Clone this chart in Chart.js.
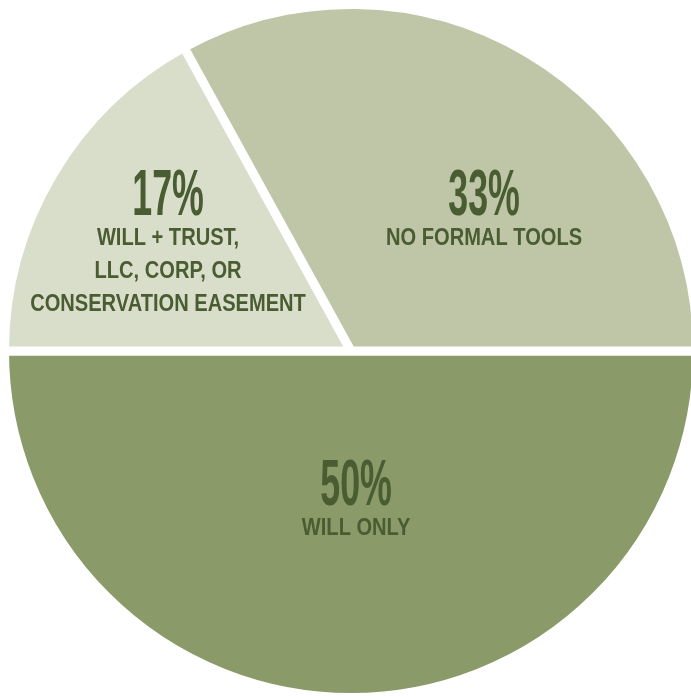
<!DOCTYPE html>
<html>
<head>
<meta charset="utf-8">
<script src="https://cdn.jsdelivr.net/npm/chart.js@4.4.1/dist/chart.umd.min.js"></script>
<style>
  html, body { margin: 0; padding: 0; background: #ffffff; overflow: hidden; }
  body { width: 691px; height: 696px; position: relative; }
  #pie { position: absolute; left: -1px; top: 0; }
</style>
</head>
<body>
<canvas id="pie" width="704" height="702"></canvas>
<script>
// data
const categories = ["Will only", "Will + trust, LLC, corp, or conservation easement", "No formal tools"];
const shares = [50, 17, 33];
const labelLines = [
  ["WILL ONLY"],
  ["WILL + TRUST,", "LLC, CORP, OR", "CONSERVATION EASEMENT"],
  ["NO FORMAL TOOLS"]
];
const sliceColors = ["#8a9a68", "#d9decb", "#bec6a7"];
const textColor = "#4a5d32";

// where each label block sits, as a fraction of the visible radius from the centre
const labelAnchors = [[0.015, 0.313], [-0.535, -0.535], [0.389, -0.535]];

const gap = 9;

const sliceLabels = {
  id: "sliceLabels",
  afterDraw(chart) {
    const ctx = chart.ctx;
    const meta = chart.getDatasetMeta(0);
    meta.data.forEach(function(arc, i) {
      const r = arc.outerRadius - gap / 2;
      const cx = arc.x + labelAnchors[i][0] * r;
      const top = arc.y + labelAnchors[i][1] * r;

      ctx.save();
      ctx.fillStyle = textColor;
      ctx.textAlign = "center";
      ctx.textBaseline = "alphabetic";

      // big condensed percentage
      ctx.save();
      ctx.translate(cx, top + 47);
      ctx.scale(0.55, 1);
      ctx.font = "bold 65px 'Liberation Sans', Arial, sans-serif";
      ctx.fillText(shares[i] + "%", 0, 0);
      ctx.restore();

      // caption lines, squeezed a little
      labelLines[i].forEach(function(line, j) {
        ctx.save();
        ctx.translate(cx, top + 77 + j * 33);
        ctx.scale(0.82, 1);
        ctx.font = "bold 24.5px 'Liberation Sans', Arial, sans-serif";
        ctx.fillText(line, 0, 0);
        ctx.restore();
      });
      ctx.restore();
    });
  }
};

const ctx = document.getElementById("pie").getContext("2d");
const pieChart = new Chart(ctx, {
  type: "pie",
  data: {
    labels: categories,
    datasets: [
      {
        data: shares,
        backgroundColor: sliceColors,
        borderColor: "#ffffff",
        borderWidth: gap,
      },
    ],
  },
  options: {
    responsive: false,
    animation: false,
    rotation: 90,
    layout: { padding: 0 },
    plugins: {
      legend: { display: false },
      tooltip: { enabled: false },
    },
  },
  plugins: [sliceLabels],
});
</script>
</body>
</html>
